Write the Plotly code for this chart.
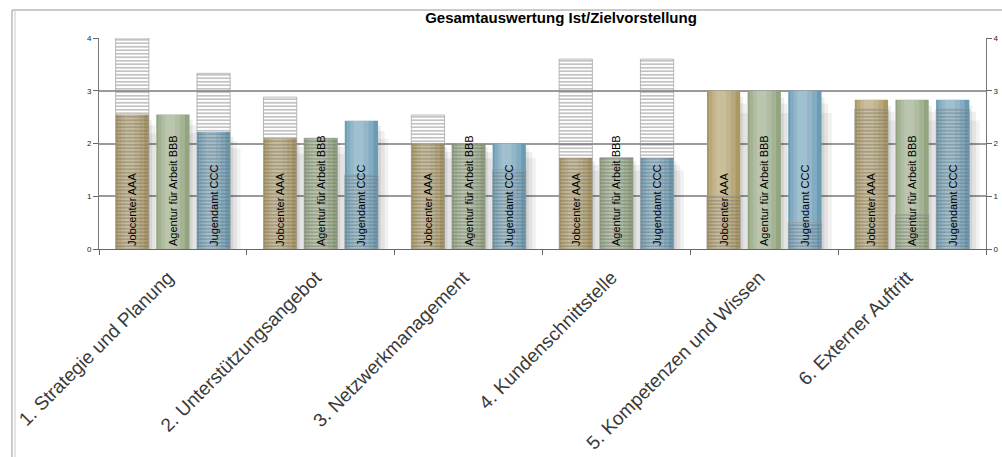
import plotly.graph_objects as go

# ---------------- data ----------------
categories = [
    "1. Strategie und Planung",
    "2. Unterstützungsangebot",
    "3. Netzwerkmanagement",
    "4. Kundenschnittstelle",
    "5. Kompetenzen und Wissen",
    "6. Externer Auftritt",
]
series_names = ["Jobcenter AAA", "Agentur für Arbeit BBB", "Jugendamt CCC"]
ist_aaa = [2.55, 2.10, 2.00, 1.73, 3.00, 2.83]
ist_bbb = [2.55, 2.10, 2.00, 1.73, 3.00, 2.83]
ist_ccc = [2.22, 2.43, 2.00, 1.73, 3.00, 2.83]
ziel_aaa = [4.00, 2.88, 2.54, 3.60, 1.00, 2.65]
ziel_bbb = [None, 2.10, 2.00, 1.73, None, 0.65]
ziel_ccc = [3.33, 1.40, 1.50, 3.60, 0.50, 2.65]
y_ticks = [0, 1, 2, 3, 4]
title_text = "Gesamtauswertung Ist/Zielvorstellung"

# ---------------- styling ----------------
W_PX, H_PX = 1002, 457
M_L, M_R, M_T, M_B = 99, 16, 38, 208
colors = ["#ac9862", "#93a57f", "#6a9cb5"]
BAR_W = 0.225
PITCH = 0.275
offsets = [-PITCH - BAR_W / 2, -BAR_W / 2, PITCH - BAR_W / 2]
FONT = "Arial, Liberation Sans, sans-serif"

ist = [ist_aaa, ist_bbb, ist_ccc]
ziel = [ziel_aaa, ziel_bbb, ziel_ccc]

fig = go.Figure()

# soft shadows to the right of the actual-value bars
for k in range(3):
    for shift, fac, a in [(0.02, 0.96, 0.07), (0.045, 0.92, 0.06), (0.07, 0.86, 0.05)]:
        fig.add_trace(go.Bar(
            x=categories, y=[v * fac for v in ist[k]],
            width=BAR_W, offset=offsets[k] + shift,
            marker=dict(color="rgba(0,0,0,%.2f)" % a, line=dict(width=0)),
            showlegend=False, hoverinfo="skip",
        ))

# actual values (solid)
for k in range(3):
    fig.add_trace(go.Bar(
        x=categories, y=ist[k], name=series_names[k],
        width=BAR_W, offset=offsets[k],
        marker=dict(color=colors[k], line=dict(width=0)),
        showlegend=False,
    ))

# light sheen on the actual-value bars (imitates the gradient fill)
for k in range(3):
    for frac, centre, a in [(0.8, 0.46, 0.16), (0.55, 0.44, 0.14), (0.3, 0.42, 0.12)]:
        w = BAR_W * frac
        fig.add_trace(go.Bar(
            x=categories, y=ist[k],
            width=w, offset=offsets[k] + BAR_W * centre - w / 2,
            marker=dict(color="rgba(255,255,255,%.2f)" % a, line=dict(width=0)),
            showlegend=False, hoverinfo="skip",
        ))

# target values (hatched, transparent background)
for k in range(3):
    fig.add_trace(go.Bar(
        x=categories, y=ziel[k], name=series_names[k] + " Ziel",
        width=BAR_W, offset=offsets[k],
        marker=dict(
            color="rgba(0,0,0,0)",
            line=dict(width=0.8, color="rgba(150,150,150,0.8)"),
            pattern=dict(shape="-", fgcolor="#6e6e6e", fgopacity=0.6,
                         size=3.5, solidity=0.35, fillmode="overlay"),
        ),
        showlegend=False,
    ))

# labels inside the actual-value bars (on the right-hand axis, drawn on top)
for k in range(3):
    fig.add_trace(go.Bar(
        x=categories, y=ist[k], yaxis="y2",
        width=BAR_W, offset=offsets[k],
        marker=dict(color="rgba(0,0,0,0)", line=dict(width=0)),
        text=[series_names[k]] * len(categories),
        textposition="inside", insidetextanchor="start", textangle=-90,
        textfont=dict(family=FONT, size=11, color="black"),
        showlegend=False, hoverinfo="skip",
    ))

plot_w = W_PX - M_L - M_R
plot_h = H_PX - M_T - M_B


def px_x(p):
    return (p - M_L) / plot_w


def px_y(p):
    return (H_PX - M_B - p) / plot_h


shapes = [
    dict(type="line", xref="paper", yref="paper",
         x0=px_x(12), x1=px_x(1002), y0=px_y(10), y1=px_y(10),
         line=dict(color="#b8b8b8", width=1.5)),
    dict(type="line", xref="paper", yref="paper",
         x0=px_x(12), x1=px_x(12), y0=px_y(10), y1=px_y(470),
         line=dict(color="#b8b8b8", width=1.5)),
    dict(type="line", xref="paper", yref="paper",
         x0=px_x(15), x1=px_x(15), y0=px_y(10), y1=px_y(470),
         line=dict(color="#c8c8c8", width=1)),
]

axis_y_common = dict(
    range=[0, 4], tickvals=y_ticks, ticktext=[str(t) for t in y_ticks],
    ticks="outside", ticklen=5, tickcolor="#666",
    tickfont=dict(family=FONT, size=8, color="#222"),
    showline=True, linecolor="#777", linewidth=1, zeroline=False,
    automargin=False,
)

fig.update_layout(
    width=W_PX, height=H_PX,
    margin=dict(l=M_L, r=M_R, t=M_T, b=M_B, pad=0, autoexpand=False),
    paper_bgcolor="white", plot_bgcolor="white",
    barmode="overlay",
    hovermode=False,
    uniformtext=dict(mode="show", minsize=11),
    title=dict(text="<b>" + title_text + "</b>", x=561 / W_PX, xref="container",
               xanchor="center", y=1 - 18 / H_PX, yref="container", yanchor="middle",
               font=dict(family=FONT, size=15, color="black")),
    font=dict(family=FONT),
    xaxis=dict(
        type="category", range=[-0.5, len(categories) - 0.5],
        tickson="boundaries", ticks="outside", ticklen=5, tickcolor="#666",
        tickangle=-45, tickfont=dict(family=FONT, size=19, color="#3a3a3a"),
        ticklabelstandoff=9, ticklabelshift=-5, automargin=False,
        showline=True, linecolor="#666", linewidth=1, showgrid=False,
    ),
    yaxis=dict(**axis_y_common, showgrid=True, gridcolor="#9a9a9a", gridwidth=1.5),
    yaxis2=dict(**axis_y_common, overlaying="y", side="right", showgrid=False),
    shapes=shapes,
)

fig.write_html("out.html")
